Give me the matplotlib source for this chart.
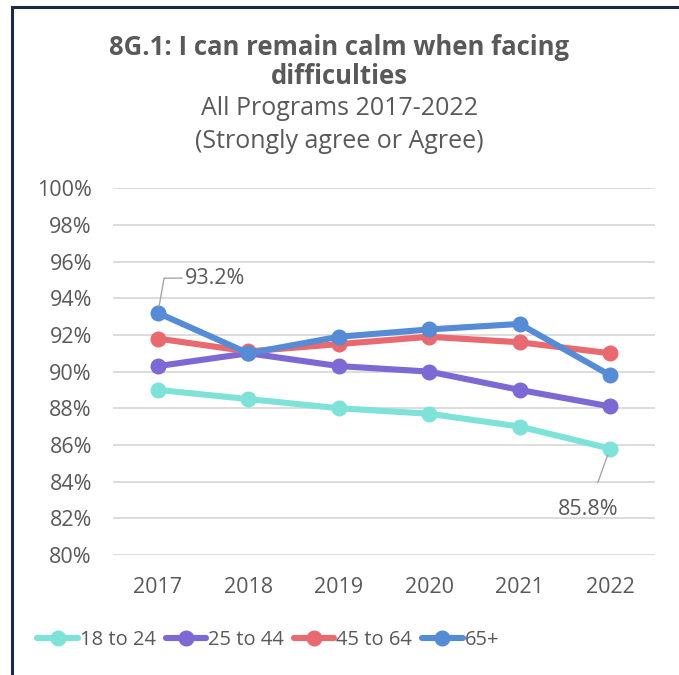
import matplotlib.pyplot as plt
from matplotlib.patches import Rectangle
from matplotlib.ticker import FuncFormatter

plt.rcParams['font.family'] = ['Open Sans', 'DejaVu Sans']

# Dados do gráfico
anos = ["2017", "2018", "2019", "2020", "2021", "2022"]
grupos = ["18 to 24", "25 to 44", "45 to 64", "65+"]
idade_18_24 = [89.0, 88.5, 88.0, 87.7, 87.0, 85.8]
idade_25_44 = [90.3, 91.0, 90.3, 90.0, 89.0, 88.1]
idade_45_64 = [91.8, 91.1, 91.5, 91.9, 91.6, 91.0]
idade_65_mais = [93.2, 91.0, 91.9, 92.3, 92.6, 89.8]
cores = ["#7EE2D8", "#7C69D3", "#E8696F", "#568BD6"]
texto = "#595959"

fig = plt.figure(figsize=(6.79, 6.75), dpi=100)
ax = fig.add_axes([0.166, 0.178, 0.799, 0.543])

series = [idade_18_24, idade_25_44, idade_45_64, idade_65_mais]
x = list(range(len(anos)))
for valores, cor, nome in zip(series, cores, grupos):
    ax.plot(x, valores, color=cor, lw=4.4, marker="o", ms=10.5,
            solid_capstyle="round", label=nome, zorder=3)

ax.set_xlim(-0.5, 5.5)
ax.set_ylim(80, 100)
ax.set_yticks(range(80, 101, 2))
ax.yaxis.set_major_formatter(FuncFormatter(lambda v, p: f"{v:.0f}%"))
ax.set_xticks(x)
ax.set_xticklabels(anos)
ax.grid(axis="y", color="#D9D9D9", lw=1.3)
ax.set_axisbelow(True)
for s in ax.spines.values():
    s.set_visible(False)
ax.tick_params(length=0, labelsize=15.5, colors=texto)
ax.tick_params(axis="y", pad=15)
ax.tick_params(axis="x", pad=16)

# Rótulos de dados
ax.annotate(f"{idade_65_mais[0]:.1f}%", xy=(0, idade_65_mais[0]),
            xytext=(0.3, 95.1), fontsize=15.5, color=texto, va="center",
            arrowprops=dict(arrowstyle="-", color="#A6A6A6", lw=1,
                            shrinkA=0, shrinkB=5,
                            connectionstyle="angle,angleA=0,angleB=80,rad=0"))
ax.annotate(f"{idade_18_24[-1]:.1f}%", xy=(5, idade_18_24[-1]),
            xytext=(4.76, 82.5), fontsize=15.5, color=texto, ha="center",
            va="center",
            arrowprops=dict(arrowstyle="-", color="#A6A6A6", lw=1,
                            shrinkA=10, shrinkB=5))

# Títulos
fig.text(0.5, 0.930, "8G.1: I can remain calm when facing", ha="center",
         va="center", fontsize=18.5, fontweight="bold", color=texto)
fig.text(0.5, 0.887, "difficulties", ha="center", va="center",
         fontsize=18.5, fontweight="bold", color=texto)
fig.text(0.5, 0.839, "All Programs 2017-2022", ha="center", va="center",
         fontsize=18, color=texto)
fig.text(0.5, 0.790, "(Strongly agree or Agree)", ha="center", va="center",
         fontsize=18, color=texto)

leg = fig.legend(loc="center", bbox_to_anchor=(0.395, 0.052), ncol=4,
                 frameon=False, fontsize=14.5, handlelength=2.0,
                 handletextpad=0.1, columnspacing=0.5, labelcolor=texto)

# Borda
fig.patches.append(Rectangle((11.5 / 679, -0.1), 1.2, 1.1 - 7 / 675,
                             transform=fig.transFigure, fill=False,
                             edgecolor="#1B2A47", lw=2.2))

fig.savefig("out.png", dpi=100)
